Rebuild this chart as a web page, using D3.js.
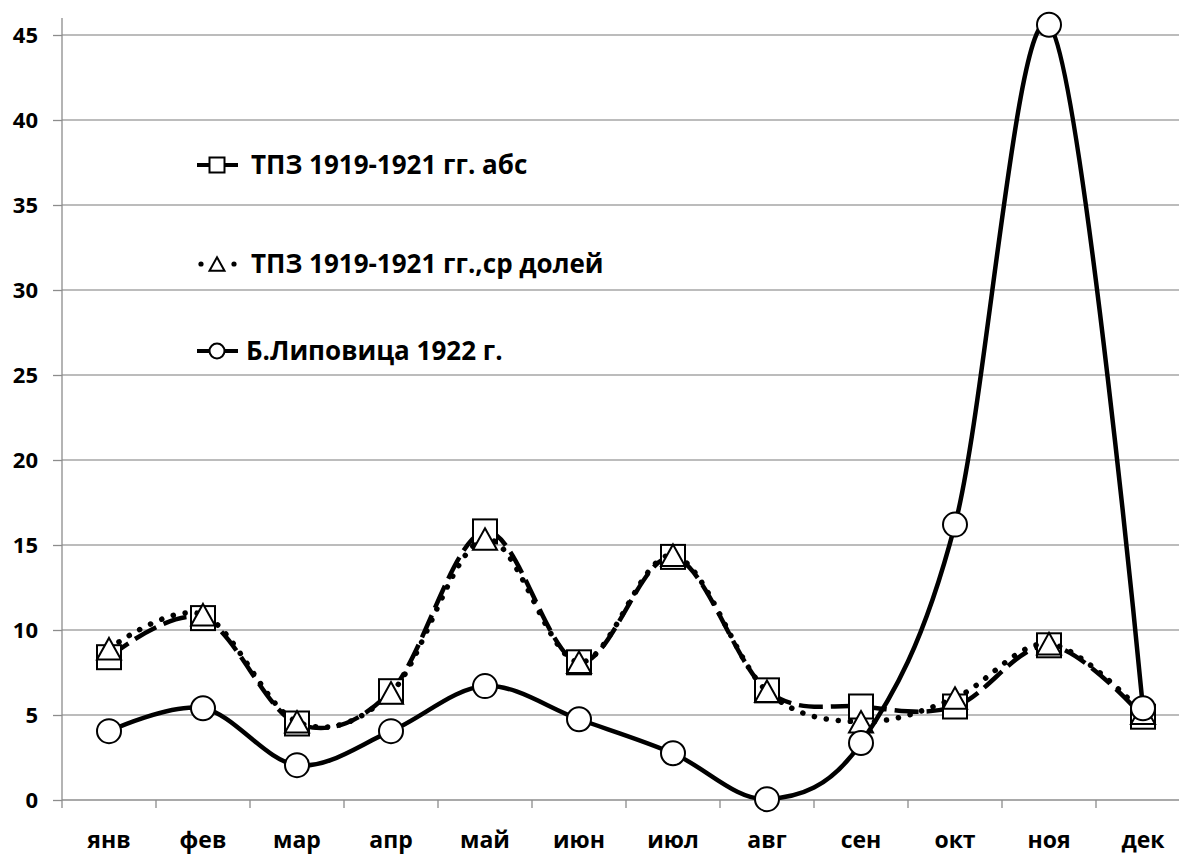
<html>
<head>
  <meta charset="utf-8">
  <script src="https://cdn.jsdelivr.net/npm/d3@7"></script>
  <style>
    body { margin: 0; background: #fff; }
    text { font-family: "Open Sans", "Noto Sans", sans-serif; font-weight: bold; fill: #000; }
  </style>
</head>
<body>
  <div id="chart"></div>
  <script>

  var months = ["янв", "фев", "мар", "апр", "май", "июн", "июл", "авг", "сен", "окт", "ноя", "дек"]
  var yTicks = [0, 5, 10, 15, 20, 25, 30, 35, 40, 45]

  // ТПЗ абс, ТПЗ ср долей, Б.Липовица
  var absVals  = [8.4, 10.7, 4.5, 6.4, 15.8, 8.1, 14.3, 6.45, 5.5, 5.5, 9.1, 4.9]
  var shareVals = [8.9, 10.9, 4.6, 6.3, 15.35, 8.1, 14.4, 6.4, 4.6, 6.0, 9.2, 5.1]
  var lipVals  = [4.05, 5.4, 2.05, 4.05, 6.7, 4.75, 2.75, 0.05, 3.35, 16.2, 45.6, 5.4]

  var names = ["ТПЗ 1919-1921 гг. абс", "ТПЗ 1919-1921 гг.,ср долей", "Б.Липовица 1922 г."]

  var W = 1179, H = 856
  var svg = d3.select("#chart").append("svg").attr("width", W).attr("height", H)

  var x = d3.scaleBand().domain(months).range([62, 1190]).paddingInner(0).paddingOuter(0)
  var y = d3.scaleLinear().domain([0, 46]).range([800, 18])
  var cx = function(m) { return x(m) + x.bandwidth() / 2 }

  // grid
  svg.append("g").selectAll("line").data(yTicks.slice(1)).enter().append("line")
     .attr("x1", 62).attr("x2", W).attr("y1", d => y(d)).attr("y2", d => y(d))
     .style("stroke", "#a6a6a6").style("stroke-width", 1.3)

  // y axis
  var ya = svg.append("g").attr("transform", "translate(62,0)")
     .call(d3.axisLeft(y).tickValues(yTicks).tickSize(9).tickPadding(15))
  ya.select(".domain").attr("d", "M0," + y(46) + "V808").style("stroke", "#8c8c8c").style("stroke-width", 1.3)
  ya.selectAll(".tick line").style("stroke", "#8c8c8c").style("stroke-width", 1.3)
  ya.selectAll("text").style("font-size", "22px")

  // x axis
  svg.append("line").attr("x1", 62).attr("x2", W).attr("y1", y(0)).attr("y2", y(0))
     .style("stroke", "#8c8c8c").style("stroke-width", 1.3)
  svg.append("g").selectAll("line").data(months.slice(1)).enter().append("line")
     .attr("x1", d => x(d)).attr("x2", d => x(d)).attr("y1", y(0)).attr("y2", y(0) + 8)
     .style("stroke", "#8c8c8c").style("stroke-width", 1.3)
  svg.append("g").selectAll("text").data(months).enter().append("text")
     .attr("x", d => cx(d)).attr("y", 848).attr("text-anchor", "middle")
     .style("font-size", "23px").text(d => d)

  var line = d3.line().x((d, i) => cx(months[i])).y(d => y(d)).curve(d3.curveCardinal.tension(0))

  var S = 24
  function square(g, px, py, s) {
    g.append("rect").attr("x", px - s / 2).attr("y", py - s / 2).attr("width", s).attr("height", s)
     .style("fill", "#fff").style("stroke", "#000").style("stroke-width", 2)
  }
  function triangle(g, px, py, s) {
    var h = s * 0.9
    g.append("path").attr("d", "M" + px + "," + (py - h / 2) + "L" + (px + s / 2) + "," + (py + h / 2) + "L" + (px - s / 2) + "," + (py + h / 2) + "Z")
     .style("fill", "#fff").style("stroke", "#000").style("stroke-width", 2)
  }
  function circle(g, px, py, s) {
    g.append("circle").attr("cx", px).attr("cy", py).attr("r", s / 2)
     .style("fill", "#fff").style("stroke", "#000").style("stroke-width", 2)
  }

  var series = [
    { vals: absVals, dash: "24,8", cap: "butt", width: 4.5, mark: square },
    { vals: shareVals, dash: "0.1,12", cap: "round", width: 5.5, mark: triangle },
    { vals: lipVals, dash: null, cap: "round", width: 4.5, mark: circle }
  ]

  series.forEach(function(s) {
    var g = svg.append("g")
    g.append("path").attr("d", line(s.vals))
     .style("fill", "none").style("stroke", "#000").style("stroke-width", s.width)
     .style("stroke-dasharray", s.dash).style("stroke-linecap", s.cap)
    s.vals.forEach(function(v, i) { s.mark(g, cx(months[i]), y(v), S) })
  })

  // legend
  var legY = [165, 264, 351]
  series.forEach(function(s, i) {
    var g = svg.append("g")
    var ly = legY[i]
    if (i == 1) {
      g.selectAll("circle.dot").data([201, 234]).enter().append("circle")
       .attr("cx", d => d).attr("cy", ly).attr("r", 2.6).style("fill", "#000")
    } else {
      g.append("line").attr("x1", 197).attr("x2", 238).attr("y1", ly).attr("y2", ly)
       .style("stroke", "#000").style("stroke-width", 4)
    }
    s.mark(g, 217, ly, 15)
    g.append("text").attr("x", i == 2 ? 246 : 251).attr("y", ly + 9).style("font-size", "26px").text(names[i])
  })

</script>
</body>
</html>
